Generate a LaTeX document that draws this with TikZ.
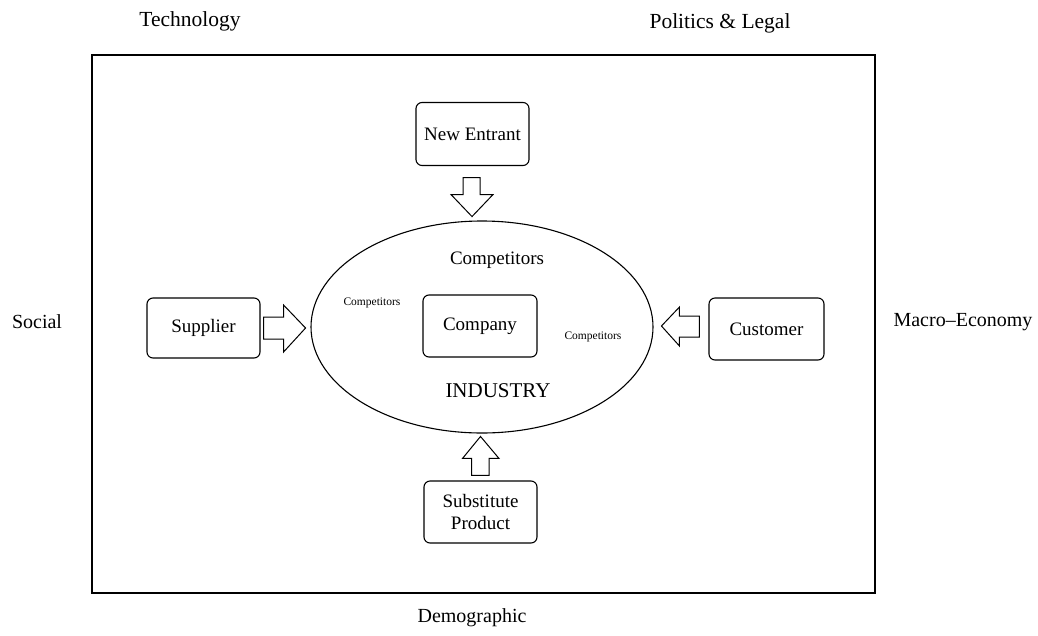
\documentclass[tikz,border=0pt]{standalone}
\usepackage{fontspec}
\setmainfont{Liberation Serif}
\usetikzlibrary{shapes.geometric,calc}
\begin{document}
\begin{tikzpicture}[x=1pt,y=-1pt,
  box/.style={draw, rounded corners=6pt, line width=1.1pt, align=center,
    inner sep=0pt, font=\fontsize{19}{22}\selectfont},
  outer/.style={font=\fontsize{20}{23}\selectfont},
  outerbig/.style={font=\fontsize{21.5}{24}\selectfont},
  inlabel/.style={font=\fontsize{19}{22}\selectfont},
  biglabel/.style={font=\fontsize{21}{24}\selectfont},
  small/.style={font=\fontsize{11.5}{13}\selectfont},
  barrow/.style={draw, line width=1pt, fill=white, line join=miter}]
\useasboundingbox (0,0) rectangle (1038,635);

% environment frame
\node[draw, line width=1.3pt, minimum width=783pt, minimum height=538pt, inner sep=0pt] (frame) at (483.5,324) {};

% macro-environment labels
\node[outerbig] (tech) at (190,21) {Technology};
\node[outerbig] (pol) at (720,23) {Politics \& Legal};
\node[outer] (soc) at (37,322) {Social};
\node[outer] (mac) at (963,322) {Macro–Economy};
\node[outer] (dem) at (472,618) {Demographic};

% industry
\node[draw, ellipse, line width=1.1pt, minimum width=342pt, minimum height=212pt, inner sep=0pt] (ind) at (482,327) {};
\node[inlabel] (comptop) at (497,260) {Competitors};
\node[small] (compl) at (372,303) {Competitors};
\node[small] (compr) at (593,337) {Competitors};
\node[biglabel] (indus) at (498,391) {INDUSTRY};
\node[box, minimum width=114pt, minimum height=62pt] (com) at (480,326) {Company};

% five forces
\node[box, minimum width=113pt, minimum height=63pt] (ne) at (472.5,134) {New Entrant};
\node[box, minimum width=113pt, minimum height=60pt] (sup) at (203.5,328) {Supplier};
\node[box, minimum width=115pt, minimum height=62pt] (cus) at (766.5,329) {Customer};
\node[box, minimum width=113pt, minimum height=62pt] (sub) at (480.5,512) {Substitute\\Product};

% block arrows pointing into the industry
\draw[barrow] ($(ne.south)+(-9.5,11.5)$) -- ++(17,0) -- ++(0,17) -- ++(13,0)
  -- ++(-21,22) -- ++(-21,-22) -- ++(12,0) -- cycle;
\draw[barrow] ($(sup.east)+(3,-11)$) -- ++(20,0) -- ++(0,-12) -- ++(22,23)
  -- ++(-22,24) -- ++(0,-13) -- ++(-20,0) -- cycle;
\draw[barrow] ($(cus.west)+(-9,-13)$) -- ++(-20,0) -- ++(0,-9) -- ++(-18,19)
  -- ++(18,20) -- ++(0,-9) -- ++(20,0) -- cycle;
\draw[barrow] ($(sub.north)+(-9,-5)$) -- ++(0,-17) -- ++(-9,0) -- ++(18,-22)
  -- ++(18.5,22) -- ++(-10,0) -- ++(0,17) -- cycle;
\end{tikzpicture}
\end{document}
